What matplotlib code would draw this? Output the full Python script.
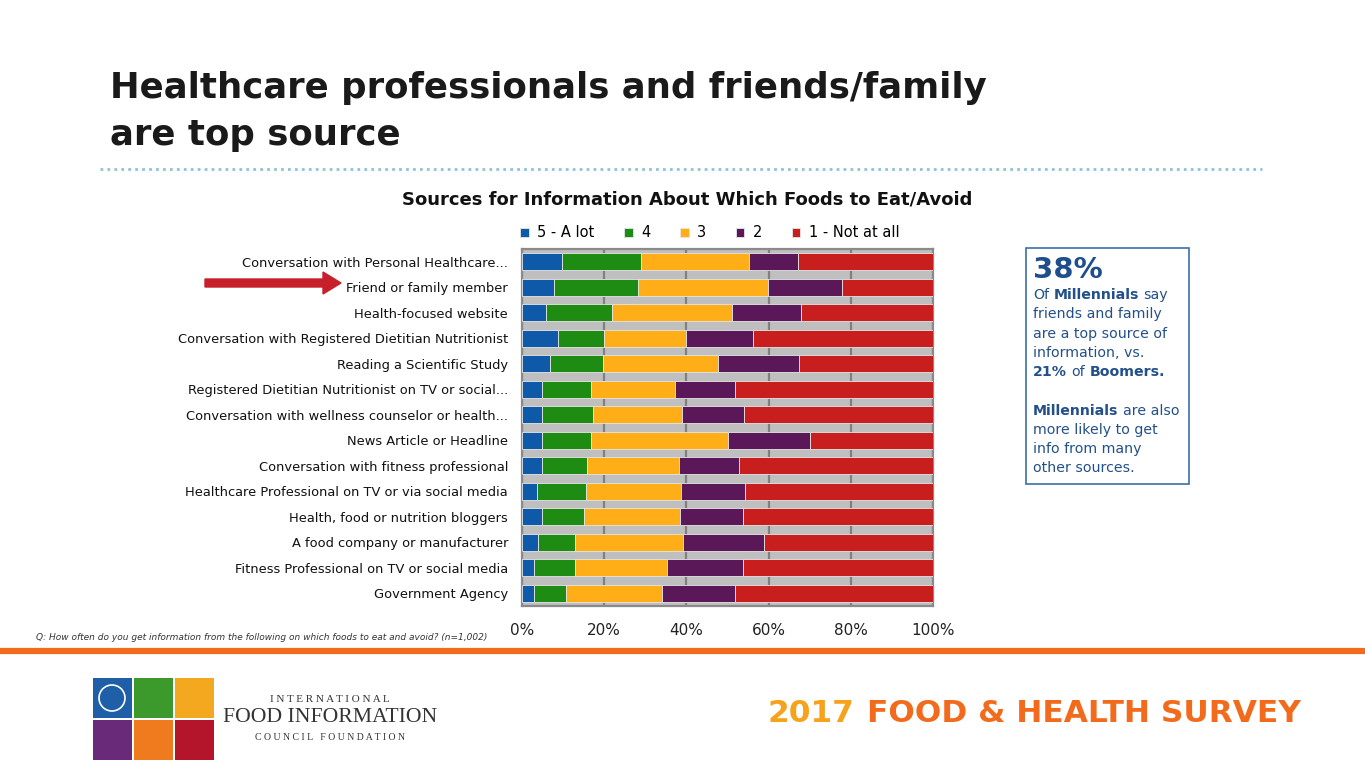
import matplotlib
matplotlib.use("Agg")
import matplotlib.pyplot as plt
from matplotlib.patches import Rectangle, FancyArrow
import numpy as np

# data (percent of respondents)
sources = ["Conversation with Personal Healthcare...",
           "Friend or family member",
           "Health-focused website",
           "Conversation with Registered Dietitian Nutritionist",
           "Reading a Scientific Study",
           "Registered Dietitian Nutritionist on TV or social...",
           "Conversation with wellness counselor or health...",
           "News Article or Headline",
           "Conversation with fitness professional",
           "Healthcare Professional on TV or via social media",
           "Health, food or nutrition bloggers",
           "A food company or manufacturer",
           "Fitness Professional on TV or social media",
           "Government Agency"]
a_lot = [9.7, 7.8, 5.9, 8.8, 6.8, 4.9, 4.9, 4.9, 4.9, 3.7, 4.9, 3.8, 2.8, 2.8]
four = [19.3, 20.5, 16.1, 11.2, 13.0, 11.9, 12.4, 11.9, 11.0, 11.8, 10.1, 9.1, 10.1, 7.9]
three = [26.2, 31.5, 29.1, 20.0, 27.8, 20.4, 21.6, 33.3, 22.3, 23.1, 23.4, 26.2, 22.5, 23.3]
two = [11.9, 18.0, 16.9, 16.2, 19.7, 14.7, 15.2, 19.9, 14.7, 15.7, 15.3, 19.9, 18.3, 17.9]
not_at_all = [32.9, 22.2, 32.0, 43.8, 32.7, 48.1, 45.9, 30.0, 47.1, 45.7, 46.3, 41.0, 46.3, 48.1]

series = [a_lot, four, three, two, not_at_all]
names = ["5 - A lot", "4", "3", "2", "1 - Not at all"]
colors = ["#0F5AA8", "#1E8C12", "#FFAE17", "#5A1858", "#C81E1E"]
ticks = [0, 20, 40, 60, 80, 100]

fig = plt.figure(figsize=(13.65, 7.68), dpi=100)
fig.patch.set_facecolor("white")

# background layer in pixel coordinates
bg = fig.add_axes([0, 0, 1, 1], zorder=0)
bg.set_xlim(0, 1365)
bg.set_ylim(768, 0)
bg.axis("off")

bg.text(110, 88, "Healthcare professionals and friends/family", fontsize=25.6,
        fontweight="bold", color="#1A1A1A", va="center", ha="left")
bg.text(110, 135, "are top source", fontsize=25.6,
        fontweight="bold", color="#1A1A1A", va="center", ha="left")
bg.plot([100, 1262], [169, 169], linestyle=(0, (1, 1.5)), color="#8EC3DA", lw=2)

bg.text(687, 200, "Sources for Information About Which Foods to Eat/Avoid",
        fontsize=13, fontweight="bold", color="#111111", ha="center", va="center")

# chart
ax = fig.add_axes([522 / 1365, 1 - 606 / 768, 411 / 1365, 357 / 768], zorder=2)
ax.set_facecolor("#BFBFBF")
y = np.arange(len(sources))
left = np.zeros(len(sources))
for vals, nm, c in zip(series, names, colors):
    ax.barh(y, vals, left=left, height=0.68, color=c, label=nm,
            edgecolor="#E6E6E6", linewidth=0.6, zorder=3)
    left += np.array(vals)

ax.set_xlim(0, 100)
ax.set_ylim(len(sources) - 0.5, -0.5)
ax.set_xticks(ticks)
ax.set_xticklabels([f"{t}%" for t in ticks], fontsize=11, color="#222222")
ax.set_yticks(y)
ax.set_yticklabels(sources, fontsize=9.35, color="#111111")
ax.tick_params(axis="y", length=0, pad=10)
ax.tick_params(axis="x", length=0, pad=12)
ax.grid(axis="x", color="#808080", lw=1.6, zorder=0)
ax.set_axisbelow(True)
for s in ax.spines.values():
    s.set_color("#8A8A8A")
    s.set_linewidth(1.6)

ax.legend(loc="center", bbox_to_anchor=(0.457, 1.045), ncol=5, frameon=False,
          fontsize=10.5, handlelength=0.6, handleheight=0.6, handletextpad=0.6,
          columnspacing=2.0, borderaxespad=0)

# red arrow
bg.add_patch(FancyArrow(205, 283, 118, 0, width=8, head_width=22, head_length=18,
                        color="#C8202A", length_includes_head=False, zorder=3))

# question note
bg.text(36, 637, "Q: How often do you get information from the following on which foods to eat and avoid? (n=1,002)",
        fontsize=6.45, style="italic", color="#333333", va="center")

# callout box
bg.add_patch(Rectangle((1026, 248), 163, 236, fill=False, edgecolor="#3C6FA6", lw=1.2))
blue = "#24508A"
bg.text(1033, 270, "38%", fontsize=21, fontweight="bold", color="#1F4E8C", va="center")

fig.canvas.draw()
rend = fig.canvas.get_renderer()


def width_of(s, weight, size=10.2):
    t = bg.text(0, 0, s, fontsize=size, fontweight=weight)
    w = t.get_window_extent(renderer=rend).width
    t.remove()
    return w


space = width_of("x x", "normal") - width_of("xx", "normal")


def rich_line(x, yy, parts):
    for txt, weight in parts:
        bg.text(x, yy, txt, fontsize=10.2, fontweight=weight, color=blue, va="center")
        x += width_of(txt, weight) + space


rich_line(1033, 295, [("Of", "normal"), ("Millennials", "bold"), ("say", "normal")])
rich_line(1033, 314, [("friends and family", "normal")])
rich_line(1033, 334, [("are a top source of", "normal")])
rich_line(1033, 353, [("information, vs.", "normal")])
rich_line(1033, 372, [("21%", "bold"), ("of", "normal"), ("Boomers.", "bold")])
rich_line(1033, 411, [("Millennials", "bold"), ("are also", "normal")])
rich_line(1033, 430, [("more likely to get", "normal")])
rich_line(1033, 449, [("info from many", "normal")])
rich_line(1033, 468, [("other sources.", "normal")])

# orange rule
bg.plot([0, 1365], [651, 651], color="#F26B1D", lw=4.5, solid_capstyle="butt")

# logo squares
logo = [(93, 678, "#1F5FA8"), (134, 678, "#3C9A2D"), (175, 678, "#F3A81F"),
        (93, 720, "#6A2A7A"), (134, 720, "#F07A1E"), (175, 720, "#B5152B")]
for lx, ly, lc in logo:
    bg.add_patch(Rectangle((lx, ly), 39, 40, color=lc, lw=0))
bg.add_patch(plt.Circle((112, 698), 13, fill=False, ec="white", lw=1.2))
bg.text(330, 699, " ".join("INTERNATIONAL"), family="Liberation Serif", fontsize=8,
        ha="center", va="center", color="#333333")
bg.text(330, 718, "FOOD INFORMATION", family="Liberation Serif", fontsize=15.6,
        ha="center", va="center", color="#333333")
bg.text(330, 738, " ".join("COUNCIL") + "   " + " ".join("FOUNDATION"),
        family="Liberation Serif", fontsize=7, ha="center", va="center", color="#333333")

# survey label
w1 = width_of("2017", "bold", size=22.5)
bg.text(768, 713, "2017", fontsize=22.5,
        fontweight="bold", color="#F7A21B", va="center")
bg.text(768 + w1 + 12, 713, "FOOD & HEALTH SURVEY", fontsize=22.5,
        fontweight="bold", color="#F26B1D", va="center")

fig.savefig("out.png", dpi=100)
